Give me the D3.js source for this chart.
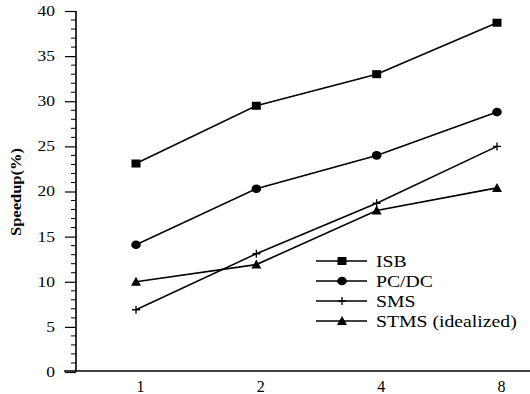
<!DOCTYPE html>
<html>
<head>
<meta charset="utf-8">
<script src="https://cdn.jsdelivr.net/npm/d3@7/dist/d3.min.js"></script>
<style>
  html, body { margin: 0; padding: 0; background: #fff; }
  svg { display: block; }
  text { font-family: "Liberation Serif", "Times New Roman", serif; fill: #000; }
</style>
</head>
<body>
<svg id="chart" width="530" height="394"></svg>
<script>
// Processor counts on the x axis
const categories = ["1", "2", "4", "8"];
// Speedup (%) per scheme
const isb  = [23.1, 29.5, 33.0, 38.7];
const pcdc = [14.1, 20.3, 24.0, 28.8];
const sms  = [6.9, 13.1, 18.7, 25.0];
const stms = [10.0, 11.9, 17.9, 20.4];
const seriesNames = ["ISB", "PC/DC", "SMS", "STMS (idealized)"];
const yTicks = [0, 5, 10, 15, 20, 25, 30, 35, 40];

const series = [
  { name: seriesNames[0], values: isb,  symbol: "square" },
  { name: seriesNames[1], values: pcdc, symbol: "circle" },
  { name: seriesNames[2], values: sms,  symbol: "plus" },
  { name: seriesNames[3], values: stms, symbol: "triangle" }
];

const svg = d3.select("#chart");
const axisX = 76, axisBottom = 372, axisTop = 11;

const x = d3.scalePoint().domain(categories).range([136, 497]);
const y = d3.scaleLinear().domain([0, 40]).range([axisBottom, axisTop]);

// y axis: major ticks every 5, minor every 1
const yAxis = d3.axisLeft(y).tickValues(yTicks).tickSize(11).tickFormat(d3.format("d"));
const gy = svg.append("g").attr("transform", `translate(${axisX},0)`).call(yAxis);
gy.select(".domain").attr("stroke", "#000").attr("stroke-width", 1.6).attr("d", `M0,${axisBottom}V${axisTop}`);
gy.selectAll(".tick line").attr("stroke", "#000").attr("stroke-width", 1.2);
gy.selectAll(".tick text")
  .attr("font-size", 14).attr("font-family", "Liberation Serif, serif")
  .attr("x", 0).attr("transform", "translate(-21,0) scale(1.25,1)");

const minor = d3.range(0, 41).filter(v => v % 5 !== 0);
svg.append("g").selectAll("line").data(minor).join("line")
  .attr("x1", axisX - 5).attr("x2", axisX)
  .attr("y1", d => y(d)).attr("y2", d => y(d))
  .attr("stroke", "#000").attr("stroke-width", 1);

// x axis: baseline across the full width, labels only
const xAxis = d3.axisBottom(x).tickSize(0).tickPadding(10);
const gx = svg.append("g").attr("transform", `translate(0,${axisBottom - 1})`).call(xAxis);
gx.select(".domain").attr("stroke", "#000").attr("stroke-width", 1.6).attr("d", "M64,0H530");
gx.selectAll(".tick text").attr("font-size", 16).attr("dx", 4).attr("font-family", "Liberation Serif, serif");

// y axis title
svg.append("text")
  .attr("transform", "translate(21,192) rotate(-90)")
  .attr("text-anchor", "middle")
  .attr("font-size", 15.5).attr("font-weight", "bold")
  .attr("textLength", 88).attr("lengthAdjust", "spacingAndGlyphs")
  .text("Speedup(%)");

function drawSymbol(g, kind, cx, cy) {
  if (kind === "square") {
    g.append("rect").attr("x", cx - 4.5).attr("y", cy - 4).attr("width", 9).attr("height", 8).attr("fill", "#000");
  } else if (kind === "circle") {
    g.append("ellipse").attr("cx", cx).attr("cy", cy).attr("rx", 4.8).attr("ry", 4.3).attr("fill", "#000");
  } else if (kind === "triangle") {
    g.append("path").attr("d", `M${cx},${cy - 5}L${cx + 5},${cy + 4}L${cx - 5},${cy + 4}Z`).attr("fill", "#000");
  } else if (kind === "plus") {
    g.append("path").attr("d", `M${cx - 4},${cy}H${cx + 4}M${cx},${cy - 4}V${cy + 4}`)
      .attr("stroke", "#000").attr("stroke-width", 1.3).attr("fill", "none");
  }
}

const line = d3.line().x((d, i) => x(categories[i])).y(d => y(d));
const plot = svg.append("g");
series.forEach(s => {
  plot.append("path").datum(s.values).attr("d", line)
    .attr("fill", "none").attr("stroke", "#000").attr("stroke-width", 1.6);
  const mg = plot.append("g");
  s.values.forEach((v, i) => drawSymbol(mg, s.symbol, x(categories[i]), y(v)));
});

// legend
const legend = svg.append("g");
series.forEach((s, i) => {
  const ly = 261 + i * 20;
  legend.append("line").attr("x1", 316).attr("x2", 367).attr("y1", ly).attr("y2", ly)
    .attr("stroke", "#000").attr("stroke-width", 1.6);
  drawSymbol(legend, s.symbol, 342, ly);
  legend.append("text").attr("transform", `translate(376,${ly}) scale(1.16,1)`)
    .attr("dy", "0.35em").attr("font-size", 17).text(s.name);
});
</script>
</body>
</html>
